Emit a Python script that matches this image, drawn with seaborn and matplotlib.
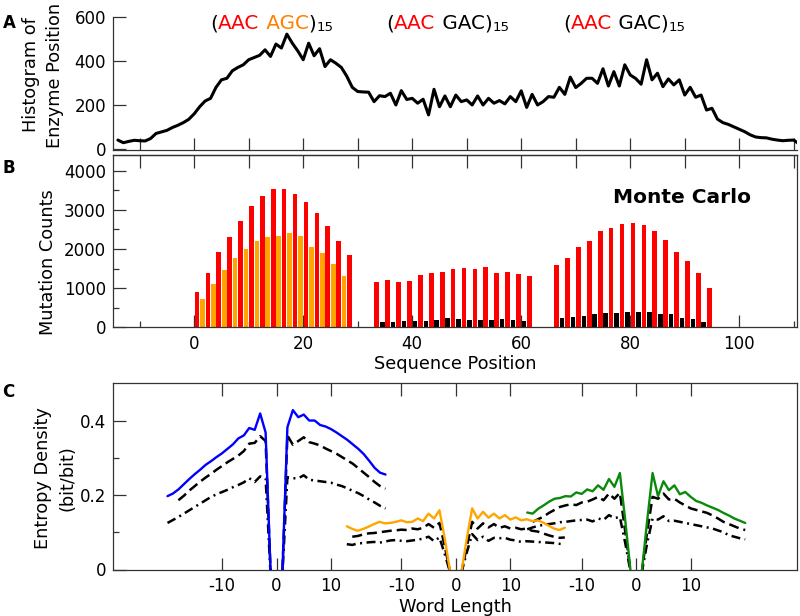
import matplotlib
matplotlib.use("Agg")
import matplotlib.pyplot as plt
import seaborn as sns
import numpy as np
from matplotlib.ticker import MultipleLocator, FixedLocator, NullFormatter

# ---------------- Panel A data: histogram of enzyme position ----------------
hist_pos = list(range(-14, 112))
hist_val = [41, 29, 35, 40, 38, 37, 48, 71, 78, 85, 98, 108, 120, 135,
            160, 192, 218, 230, 280, 314, 321, 355, 370, 382, 405, 415, 425, 450,
            420, 476, 458, 521, 480, 445, 405, 480, 423, 455, 374, 405, 389, 370,
            330, 280, 261, 259, 258, 215, 242, 238, 253, 200, 265, 225, 230, 208,
            226, 155, 271, 192, 241, 192, 245, 215, 223, 200, 241, 200, 230, 208,
            220, 205, 238, 215, 264, 189, 248, 200, 215, 238, 235, 280, 248, 326,
            279, 298, 321, 321, 298, 364, 286, 351, 286, 382, 336, 320, 294, 405,
            314, 344, 283, 318, 291, 314, 245, 280, 235, 245, 177, 185, 136, 120,
            112, 101, 90, 79, 65, 55, 52, 51, 45, 41, 38, 40, 41, 23]

# ---------------- Panel B data: mutation counts ----------------
red_pos = list(range(0, 29, 2)) + list(range(33, 62, 2)) + list(range(66, 95, 2))
red_val = [894, 1379, 1915, 2298, 2706, 3106, 3345, 3523, 3523, 3396, 3191, 2928, 2579, 2204, 1838,
           1166, 1217, 1166, 1191, 1336, 1379, 1404, 1489, 1515, 1481, 1549, 1387, 1404, 1353, 1302,
           1591, 1762, 2042, 2204, 2468, 2527, 2638, 2664, 2604, 2468, 2230, 1932, 1702, 1379, 1013]
orange_pos = list(range(1, 28, 2))
orange_val = [723, 1106, 1464, 1762, 2000, 2196, 2298, 2332, 2408, 2332, 2059, 1889, 1617, 1319]
black_pos = list(range(34, 61, 2)) + list(range(67, 94, 2))
black_val = [145, 145, 170, 170, 170, 187, 230, 213, 187, 204, 204, 213, 187, 170,
             230, 272, 289, 332, 374, 374, 400, 400, 383, 357, 340, 255, 213, 153]

# ---------------- Panel C data: entropy density vs word length ----------------
L_left20 = list(range(-20, 0))
L_left19 = list(range(-19, 0))
L_left18 = list(range(-18, 0))
L_right = list(range(1, 21))

blue_left = [0.197, 0.204, 0.215, 0.229, 0.243, 0.256, 0.268, 0.281, 0.291, 0.302,
             0.312, 0.324, 0.336, 0.352, 0.360, 0.380, 0.375, 0.419, 0.368, -0.04]
blue_right = [-0.04, 0.382, 0.428, 0.409, 0.416, 0.400, 0.400, 0.388, 0.384, 0.377,
              0.368, 0.358, 0.348, 0.336, 0.324, 0.310, 0.292, 0.273, 0.260, 0.255]
blue_dash_left = [0.186, 0.198, 0.212, 0.224, 0.236, 0.247, 0.257, 0.268, 0.278, 0.288,
                  0.297, 0.306, 0.318, 0.338, 0.340, 0.358, 0.345, -0.04]
blue_dash_right = [-0.04, 0.360, 0.335, 0.345, 0.355, 0.342, 0.338, 0.333, 0.325, 0.318,
                   0.311, 0.302, 0.293, 0.284, 0.272, 0.260, 0.248, 0.235, 0.224, 0.217]
blue_dd_left = [0.125, 0.133, 0.141, 0.150, 0.159, 0.168, 0.177, 0.186, 0.195, 0.202,
                0.208, 0.214, 0.221, 0.227, 0.234, 0.245, 0.235, 0.250, 0.245, -0.04]
blue_dd_right = [-0.04, 0.248, 0.245, 0.245, 0.253, 0.241, 0.239, 0.237, 0.235, 0.233,
                 0.228, 0.224, 0.218, 0.211, 0.205, 0.197, 0.188, 0.180, 0.171, 0.164]

orange_left = [0.116, 0.109, 0.104, 0.109, 0.115, 0.122, 0.128, 0.124, 0.125, 0.128,
               0.132, 0.127, 0.128, 0.137, 0.130, 0.150, 0.137, 0.159, 0.080, -0.01]
orange_right = [-0.01, 0.082, 0.164, 0.137, 0.155, 0.139, 0.150, 0.137, 0.146, 0.134,
                0.140, 0.132, 0.135, 0.130, 0.132, 0.126, 0.118, 0.110, 0.106, 0.112]
orange_dash_left = [0.088, 0.090, 0.094, 0.097, 0.098, 0.100, 0.102, 0.104, 0.105, 0.107,
                    0.106, 0.110, 0.108, 0.112, 0.122, 0.112, 0.125, 0.060, -0.01]
orange_dash_right = [-0.01, 0.060, 0.128, 0.110, 0.124, 0.113, 0.122, 0.112, 0.116, 0.110,
                     0.112, 0.108, 0.110, 0.104, 0.102, 0.097, 0.092, 0.088, 0.085, 0.086]
orange_dd_left = [0.068, 0.066, 0.070, 0.071, 0.073, 0.074, 0.072, 0.075, 0.078, 0.079,
                  0.077, 0.076, 0.078, 0.080, 0.083, 0.088, 0.076, 0.086, 0.040, -0.01]
orange_dd_right = [-0.01, 0.045, 0.095, 0.079, 0.088, 0.077, 0.085, 0.084, 0.085, 0.080,
                   0.078, 0.074, 0.076, 0.075, 0.074, 0.073, 0.072, 0.071, 0.069, 0.068]

green_left = [0.153, 0.150, 0.163, 0.172, 0.182, 0.190, 0.192, 0.197, 0.196, 0.207,
              0.203, 0.215, 0.210, 0.226, 0.214, 0.243, 0.222, 0.259, 0.130, -0.01]
green_right = [-0.01, 0.130, 0.259, 0.197, 0.237, 0.213, 0.226, 0.202, 0.208, 0.195,
               0.184, 0.179, 0.172, 0.166, 0.160, 0.152, 0.145, 0.137, 0.131, 0.125]
green_dash_left = [0.128, 0.135, 0.142, 0.152, 0.160, 0.168, 0.172, 0.175, 0.173, 0.180,
                   0.182, 0.188, 0.195, 0.186, 0.204, 0.190, 0.206, 0.100, -0.01]
green_dash_right = [-0.01, 0.100, 0.195, 0.190, 0.204, 0.188, 0.190, 0.180, 0.172, 0.164,
                    0.160, 0.156, 0.152, 0.145, 0.137, 0.128, 0.122, 0.116, 0.110, 0.106]
green_dd_left = [0.108, 0.113, 0.117, 0.120, 0.122, 0.124, 0.127, 0.128, 0.130, 0.132,
                 0.133, 0.134, 0.129, 0.137, 0.133, 0.146, 0.138, 0.141, 0.070, -0.01]
green_dd_right = [-0.01, 0.070, 0.137, 0.134, 0.143, 0.130, 0.131, 0.128, 0.125, 0.122,
                  0.119, 0.116, 0.113, 0.110, 0.105, 0.100, 0.092, 0.088, 0.084, 0.081]

group_offsets = [30.0, 62.9, 96.0]
c_tick_rel = [-10, 0, 10]
c_tick_labels = ["-10", "0", "10"]

# ---------------- style ----------------
sns.set_theme(style="ticks")
plt.rcParams.update({
    "font.family": ["DejaVu Sans"],
    "text.color": "black",
    "axes.edgecolor": "#333333",
    "axes.linewidth": 0.9,
    "xtick.color": "#333333", "ytick.color": "#333333",
    "xtick.labelcolor": "black", "ytick.labelcolor": "black",
    "xtick.direction": "in", "ytick.direction": "in",
    "xtick.major.size": 9, "ytick.major.size": 9,
    "xtick.minor.size": 4.5, "ytick.minor.size": 4.5,
    "xtick.major.width": 0.9, "ytick.major.width": 0.9,
    "xtick.minor.width": 0.9, "ytick.minor.width": 0.9,
    "xtick.major.pad": 5.5, "ytick.major.pad": 5,
    "xtick.labelsize": 12, "ytick.labelsize": 12,
    "axes.labelsize": 12.8,
    "axes.labelcolor": "black",
})

W, H = 800, 616
fig = plt.figure(figsize=(8, 6.16), dpi=100)


def axes_px(l, t, r, b):
    return fig.add_axes([l / W, 1 - b / H, (r - l) / W, (b - t) / H])


ax_a = axes_px(113, 16.7, 797, 150)
ax_b = axes_px(113, 155, 797, 327.5)
ax_c = axes_px(113, 383.3, 797, 569.5)

# ---------------- Panel A ----------------
sns.lineplot(x=hist_pos, y=hist_val, ax=ax_a, color="black", linewidth=2.2)
ax_a.set_xlim(-14.9, 110.6)
ax_a.set_ylim(-4, 600)
ax_a.spines["top"].set_visible(False)
ax_a.spines["right"].set_visible(False)
ax_a.xaxis.set_major_locator(MultipleLocator(10))
ax_a.tick_params(axis="x", labelbottom=False)
ax_a.set_yticks([0, 200, 400, 600])
ax_a.set_xlabel("")
ax_a.set_ylabel("Histogram of\nEnzyme Position", linespacing=1.45)
ax_a.yaxis.set_label_coords(-0.0716, 0.563)

# ---------------- Panel B ----------------
sns.histplot(x=np.array(red_pos) + 0.5, weights=red_val, discrete=True, shrink=0.85,
             color="#ff0000", alpha=1, linewidth=0, ax=ax_b)
sns.histplot(x=np.array(orange_pos) + 0.5, weights=orange_val, discrete=True, shrink=0.85,
             color="#ffa500", alpha=1, linewidth=0, ax=ax_b)
sns.histplot(x=np.array(black_pos) + 0.5, weights=black_val, discrete=True, shrink=0.85,
             color="#000000", alpha=1, linewidth=0, ax=ax_b)
ax_b.set_xlim(-14.9, 110.6)
ax_b.set_ylim(0, 4400)
ax_b.xaxis.set_major_locator(FixedLocator([0, 20, 40, 60, 80, 100]))
ax_b.xaxis.set_minor_locator(FixedLocator([-10, 10, 30, 50, 70, 90, 110]))
ax_b.yaxis.set_major_locator(MultipleLocator(1000))
ax_b.yaxis.set_minor_locator(MultipleLocator(500))
sec = ax_b.secondary_xaxis("top")
sec.set_xticks(list(range(-10, 111, 10)))
sec.xaxis.set_major_formatter(NullFormatter())
sec.tick_params(direction="in", length=9, width=0.9)
ax_b.set_xlabel("Sequence Position")
ax_b.set_ylabel("Mutation Counts")
ax_b.xaxis.set_label_coords(0.5, -0.16)
ax_b.xaxis.label.set_va("top")
ax_b.yaxis.set_label_coords(-0.0814, 0.38)
ax_b.text(0.731, 0.722, "Monte Carlo", transform=ax_b.transAxes, fontsize=14.5,
          fontweight="bold", va="baseline", ha="left", color="black")

# ---------------- Panel C ----------------
dash = (0, (4.0, 2.0))
dashdot = (0, (3.6, 1.8, 0.8, 1.8))
groups = [
    (group_offsets[0], "#0000ff",
     (L_left20, blue_left), (L_right, blue_right),
     (L_left18, blue_dash_left), (L_right, blue_dash_right),
     (L_left20, blue_dd_left), (L_right, blue_dd_right)),
    (group_offsets[1], "#ffa500",
     (L_left20, orange_left), (L_right, orange_right),
     (L_left19, orange_dash_left), (L_right, orange_dash_right),
     (L_left20, orange_dd_left), (L_right, orange_dd_right)),
    (group_offsets[2], "#0a8a0a",
     (L_left20, green_left), (L_right, green_right),
     (L_left19, green_dash_left), (L_right, green_dash_right),
     (L_left20, green_dd_left), (L_right, green_dd_right)),
]
# black (dashed, dash-dot) lines first
for off, col, cl, cr, dl, dr, ddl, ddr in groups:
    for (xs, ys), ls in [(dl, dash), (dr, dash), (ddl, dashdot), (ddr, dashdot)]:
        sns.lineplot(x=np.array(xs) + off, y=ys, ax=ax_c, color="black",
                     linestyle=ls, linewidth=1.8, sort=False, estimator=None)
# coloured lines on top
for off, col, cl, cr, dl, dr, ddl, ddr in groups:
    for xs, ys in [cl, cr]:
        sns.lineplot(x=np.array(xs) + off, y=ys, ax=ax_c, color=col,
                     linewidth=1.7, sort=False, estimator=None)

ax_c.set_xlim(0, 125.5)
ax_c.set_ylim(0, 0.5)
c_ticks = [off + r for off in group_offsets for r in c_tick_rel]
ax_c.set_xticks(c_ticks)
ax_c.set_xticklabels(c_tick_labels * 3)
ax_c.tick_params(axis="x", top=True)
ax_c.set_yticks([0, 0.2, 0.4])
ax_c.set_yticklabels(["0", "0.2", "0.4"])
ax_c.yaxis.set_minor_locator(FixedLocator([0.1, 0.3]))
ax_c.set_xlabel("Word Length")
ax_c.set_ylabel("Entropy Density\n(bit/bit)", linespacing=1.45)
ax_c.xaxis.set_label_coords(0.5, -0.155)
ax_c.xaxis.label.set_va("top")
ax_c.yaxis.set_label_coords(-0.053, 0.49)

# ---------------- panel letters ----------------
for letter, (x, y) in zip(["A", "B", "C"], [(3, 28), (2, 172.7), (2, 397)]):
    fig.text(x / W, 1 - y / H, letter, fontsize=12, fontweight="bold",
             va="baseline", ha="left", color="black")

# ---------------- sequence titles ----------------
title_parts = [
    [("(", "black"), ("AAC", "#ff0000"), (" AGC", "#ff8000"), (")", "black")],
    [("(", "black"), ("AAC", "#ff0000"), (" GAC", "black"), (")", "black")],
    [("(", "black"), ("AAC", "#ff0000"), (" GAC", "black"), (")", "black")],
]
title_x = [210.5, 386.5, 563.0]
title_sub = "15"
for x0, parts in zip(title_x, title_parts):
    t = fig.text(x0 / W, 1 - 29.3 / H, parts[0][0], color=parts[0][1], fontsize=14.3,
                 va="baseline", ha="left")
    for s, c in parts[1:]:
        t = ax_a.annotate(s, xy=(1, 0), xycoords=t, va="bottom", ha="left",
                          color=c, fontsize=14.3)
    ax_a.annotate(title_sub, xy=(1, 0), xycoords=t, xytext=(0.2, -0.6),
                  textcoords="offset points", va="bottom", ha="left",
                  color="black", fontsize=9.5)

fig.savefig("out.png", dpi=100)
